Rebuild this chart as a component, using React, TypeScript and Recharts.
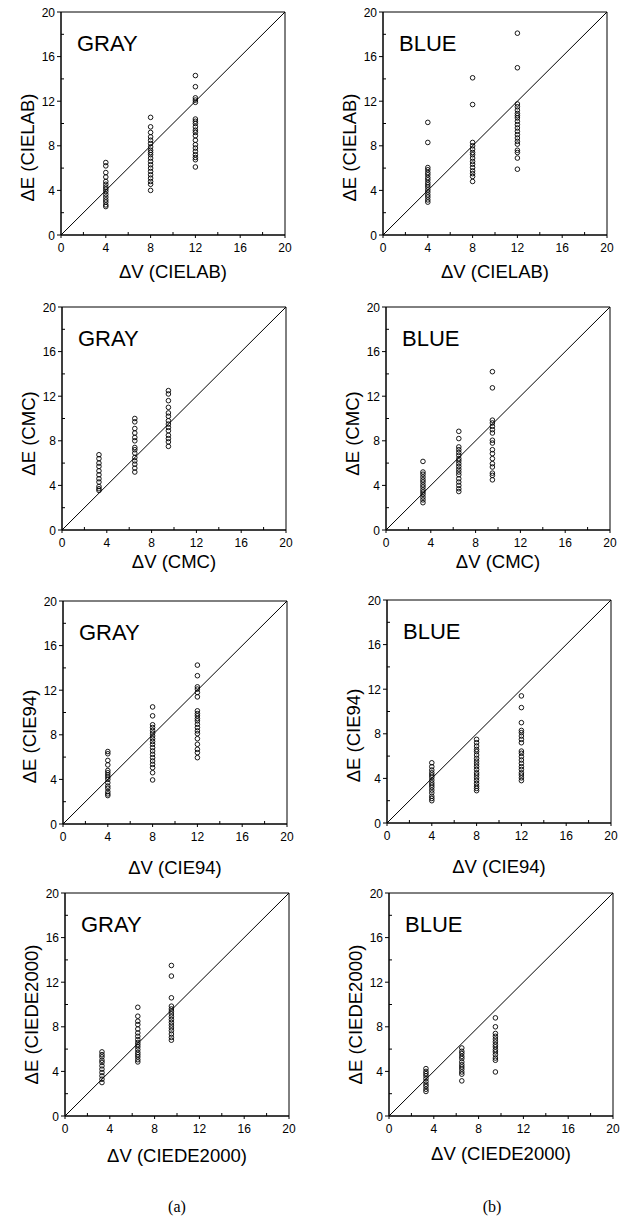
import React from 'react';
import { ScatterChart, Scatter, XAxis, YAxis, ReferenceLine, ReferenceArea } from 'recharts';

// visual scale steps (ΔV) for each metric
const DV_EVEN = [4, 8, 12];
const DV_SCALED = [3.3, 6.5, 9.5];

const AXIS_TICKS = [0, 2, 4, 6, 8, 10, 12, 14, 16, 18, 20];

// ΔE values read per ΔV step
const grayCielab = [
  [6.5, 6.2, 5.6, 5.2, 4.8, 4.55, 4.3, 4.1, 3.9, 3.65, 3.4, 3.15, 2.95, 2.7, 2.55],
  [10.55, 9.7, 9.2, 8.8, 8.5, 8.2, 7.9, 7.6, 7.4, 7.2, 6.9, 6.6, 6.3, 6.0, 5.7, 5.4, 5.1, 4.8, 4.55, 4.0],
  [14.3, 13.3, 12.3, 12.1, 11.9, 10.4, 10.2, 10.0, 9.7, 9.4, 9.2, 8.9, 8.5, 8.1, 7.8, 7.5, 7.2, 6.95, 6.75, 6.1],
];
const blueCielab = [
  [10.1, 8.3, 6.05, 5.85, 5.6, 5.4, 5.15, 4.95, 4.7, 4.5, 4.3, 4.05, 3.85, 3.6, 3.4, 3.15, 2.95],
  [14.1, 11.7, 8.3, 8.0, 7.7, 7.4, 7.2, 6.9, 6.6, 6.35, 6.05, 5.75, 5.5, 5.25, 4.8],
  [18.1, 15.0, 11.75, 11.5, 11.2, 10.9, 10.7, 10.5, 10.2, 9.9, 9.6, 9.3, 9.0, 8.7, 8.4, 8.15, 7.6, 7.4, 6.9, 5.9],
];
const grayCmc = [
  [6.75, 6.4, 6.0, 5.7, 5.3, 4.95, 4.6, 4.3, 3.9, 3.7, 3.55],
  [10.0, 9.7, 9.1, 8.7, 8.3, 8.0, 7.4, 7.2, 6.9, 6.5, 6.2, 5.9, 5.55, 5.2],
  [12.5, 12.2, 11.6, 11.0, 10.5, 10.2, 9.8, 9.5, 9.2, 8.9, 8.5, 8.2, 7.9, 7.5],
];
const blueCmc = [
  [6.15, 5.2, 5.0, 4.75, 4.5, 4.3, 4.05, 3.85, 3.6, 3.4, 3.2, 2.95, 2.7, 2.45],
  [8.85, 8.2, 7.45, 7.2, 6.95, 6.7, 6.4, 6.2, 5.95, 5.7, 5.45, 5.2, 4.95, 4.6, 4.3, 4.0, 3.7, 3.45],
  [14.2, 12.75, 9.85, 9.6, 9.3, 9.0, 8.7, 8.05, 7.8, 7.2, 6.85, 6.4, 5.95, 5.65, 5.1, 4.9, 4.5],
];
const grayCie94 = [
  [6.5, 6.3, 5.7, 5.3, 4.8, 4.6, 4.4, 4.2, 4.0, 3.7, 3.4, 3.2, 2.9, 2.7, 2.55],
  [10.5, 9.7, 8.9, 8.65, 8.4, 8.15, 7.9, 7.65, 7.4, 7.15, 6.85, 6.55, 6.25, 5.95, 5.65, 5.35, 5.05, 4.6, 3.95],
  [14.25, 13.3, 12.3, 12.1, 11.8, 11.4, 10.15, 9.9, 9.7, 9.45, 9.25, 8.95, 8.65, 8.35, 8.1, 7.65, 7.15, 6.7, 6.4, 5.95],
];
const blueCie94 = [
  [5.4, 5.05, 4.75, 4.5, 4.3, 4.1, 3.85, 3.6, 3.4, 3.2, 2.95, 2.7, 2.4, 2.2, 2.0],
  [7.5, 7.2, 6.9, 6.6, 6.4, 6.1, 5.8, 5.55, 5.3, 5.05, 4.8, 4.5, 4.3, 4.05, 3.8, 3.55, 3.3, 3.1, 2.9],
  [11.4, 10.35, 9.0, 8.3, 8.1, 7.8, 7.5, 7.2, 6.45, 6.25, 5.95, 5.65, 5.35, 5.05, 4.8, 4.5, 4.3, 4.05, 3.8],
];
const grayCiede = [
  [5.75, 5.5, 5.3, 5.0, 4.8, 4.5, 4.2, 3.9, 3.6, 3.3, 3.0],
  [9.75, 8.95, 8.5, 8.2, 7.8, 7.45, 7.15, 6.85, 6.6, 6.4, 6.2, 5.95, 5.7, 5.5, 5.3, 5.05, 4.85],
  [13.5, 12.55, 10.6, 9.85, 9.6, 9.4, 9.15, 8.9, 8.65, 8.4, 8.15, 7.9, 7.65, 7.35, 7.05, 6.8],
];
const blueCiede = [
  [4.25, 4.0, 3.8, 3.6, 3.35, 3.1, 2.85, 2.65, 2.4, 2.2],
  [6.1, 5.8, 5.6, 5.35, 5.15, 4.85, 4.6, 4.4, 4.2, 3.95, 3.75, 3.15],
  [8.8, 8.0, 7.4, 7.15, 6.9, 6.65, 6.4, 6.2, 5.95, 5.75, 5.5, 5.2, 5.0, 3.95],
];

const FONT = '"Liberation Sans", Arial, Helvetica, sans-serif';
const Y_AXIS_W = 58;
const PLOT_W = 224;
const PLOT_H = 223;
const TOP = 12;

const XTick = (props: any) => {
  const { x, y, payload } = props;
  const major = payload.value % 4 === 0;
  if (!major) return <line x1={x} y1={y} x2={x} y2={y - 3} stroke="#000" />;
  return (
    <g>
      <line x1={x} y1={y} x2={x} y2={y + 3} stroke="#000" />
      <text x={x} y={y + 17} textAnchor="middle" fontSize={12} fontFamily={FONT} fill="#000">{payload.value}</text>
    </g>
  );
};

const YTick = (props: any) => {
  const { x, y, payload } = props;
  const major = payload.value % 4 === 0;
  if (!major) return <line x1={x} y1={y} x2={x + 3} y2={y} stroke="#000" />;
  return (
    <g>
      <line x1={x - 4} y1={y} x2={x} y2={y} stroke="#000" />
      <text x={x - 6} y={y + 4.5} textAnchor="end" fontSize={12} fontFamily={FONT} fill="#000">{payload.value}</text>
    </g>
  );
};

const Ring = (props: any) => (
  <circle cx={props.cx} cy={props.cy} r={2.3} fill="none" stroke="#000" strokeWidth={0.9} />
);

interface PanelProps {
  title: string;
  metric: string;
  steps: number[];
  values: number[][];
  left: number;
  top: number;
  yShift: number;
  xShift: number;
}

const Panel: React.FC<PanelProps> = ({ title, metric, steps, values, left, top, yShift, xShift }) => {
  const data = steps.flatMap((dv, i) => values[i].map(de => ({ x: dv, y: de })));

  const yLabel = (p: any) => {
    const vb = p.viewBox;
    const cx = vb.x + vb.width - 34;
    const cy = vb.y + vb.height / 2 + yShift;
    return (
      <text x={cx} y={cy} transform={`rotate(-90 ${cx} ${cy})`} textAnchor="middle" dominantBaseline="central"
        fontSize={18.5} fontFamily={FONT} fill="#000">{`ΔE (${metric})`}</text>
    );
  };

  const xLabel = (p: any) => {
    const vb = p.viewBox;
    return (
      <text x={vb.x + vb.width / 2} y={vb.y + xShift} textAnchor="middle" dominantBaseline="central"
        fontSize={18.5} fontFamily={FONT} fill="#000">{`ΔV (${metric})`}</text>
    );
  };

  const tag = (p: any) => {
    const vb = p.viewBox;
    return (
      <text x={vb.x + 16} y={vb.y + 39} fontSize={22} fontFamily={FONT} fill="#000">{title}</text>
    );
  };

  return (
    <div style={{ position: 'absolute', left: left - Y_AXIS_W, top: top - TOP }}>
      <ScatterChart width={Y_AXIS_W + PLOT_W + 10} height={TOP + PLOT_H + 55}
        margin={{ top: TOP, right: 10, bottom: 0, left: 0 }}>
        <XAxis type="number" dataKey="x" domain={[0, 20]} ticks={AXIS_TICKS} interval={0}
          height={55} tickSize={0} tickMargin={0} tick={<XTick />} stroke="#000"
          label={{ content: xLabel }} />
        <YAxis type="number" dataKey="y" domain={[0, 20]} ticks={AXIS_TICKS} interval={0}
          width={Y_AXIS_W} tickSize={0} tickMargin={0} tick={<YTick />} stroke="#000"
          label={{ content: yLabel }} />
        <ReferenceArea x1={0} x2={20} y1={0} y2={20} fill="none" fillOpacity={0} stroke="#000" strokeWidth={1}
          label={{ content: tag }} />
        <ReferenceLine segment={[{ x: 0, y: 0 }, { x: 20, y: 20 }]} stroke="#000" strokeWidth={1} />
        <Scatter data={data} shape={<Ring />} isAnimationActive={false} />
      </ScatterChart>
    </div>
  );
};

const Caption = ({ text, x }: { text: string; x: number }) => (
  <div style={{ position: 'absolute', left: x - 30, width: 60, top: 1198, textAlign: 'center',
    fontFamily: '"Liberation Serif", "Times New Roman", serif', fontSize: 16 }}>{text}</div>
);

export default function App() {
  return (
    <div style={{ position: 'absolute', left: 0, top: 0, width: 627, height: 1218, background: '#fff', overflow: 'hidden' }}>
      <Panel title="GRAY" metric="CIELAB" steps={DV_EVEN} values={grayCielab} left={61} top={12} yShift={24} xShift={36} />
      <Panel title="BLUE" metric="CIELAB" steps={DV_EVEN} values={blueCielab} left={383} top={12} yShift={24} xShift={36} />
      <Panel title="GRAY" metric="CMC" steps={DV_SCALED} values={grayCmc} left={62} top={307} yShift={15} xShift={31} />
      <Panel title="BLUE" metric="CMC" steps={DV_SCALED} values={blueCmc} left={386} top={307} yShift={15} xShift={31} />
      <Panel title="GRAY" metric="CIE94" steps={DV_EVEN} values={grayCie94} left={63} top={601} yShift={24} xShift={43} />
      <Panel title="BLUE" metric="CIE94" steps={DV_EVEN} values={blueCie94} left={387} top={600} yShift={24} xShift={43} />
      <Panel title="GRAY" metric="CIEDE2000" steps={DV_SCALED} values={grayCiede} left={65} top={893} yShift={10} xShift={39} />
      <Panel title="BLUE" metric="CIEDE2000" steps={DV_SCALED} values={blueCiede} left={389} top={893} yShift={10} xShift={37} />
      <Caption text="(a)" x={177} />
      <Caption text="(b)" x={492} />
    </div>
  );
}
